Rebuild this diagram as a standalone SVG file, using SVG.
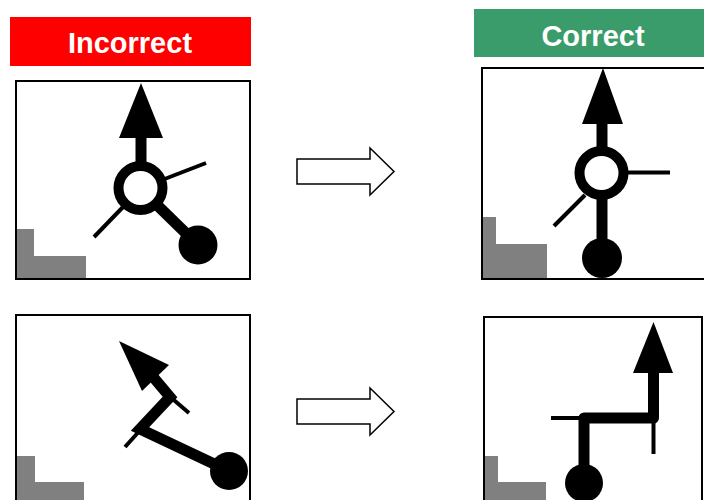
<svg xmlns="http://www.w3.org/2000/svg" width="704" height="500" viewBox="0 0 704 500">
<style>
.banner-text{font-family:"Liberation Sans",Arial,sans-serif;font-weight:bold;font-size:29px;fill:#fff;text-anchor:middle}
.frame{fill:#fff;stroke:#000;stroke-width:2}
.floor{fill:#808080}
.thick{fill:none;stroke:#000;stroke-width:11}
.thin{fill:none;stroke:#000;stroke-width:4}
.ring{fill:#fff;stroke:#000;stroke-width:10}
.dot{fill:#000}
.head{fill:#000}
.big-arrow{fill:#fff;stroke:#000;stroke-width:1.5}
</style>
<rect width="704" height="500" fill="#fff"/>

<g id="label-incorrect">
<rect x="10" y="17" width="241" height="49" fill="#ff0000"/>
<text class="banner-text" x="130" y="53">Incorrect</text>
</g>
<g id="label-correct">
<rect x="474" y="9" width="232" height="48" fill="#3a9c6a"/>
<text class="banner-text" x="593" y="46">Correct</text>
</g>

<g id="panel-incorrect-1">
<rect class="frame" x="16" y="81" width="234" height="198"/>
<path class="floor" d="M17,229 H34 V256 H86 V278 H17 Z"/>
<line class="thick" x1="141" y1="136" x2="141" y2="170"/>
<line class="thick" x1="156" y1="204" x2="198" y2="245"/>
<line class="thin" x1="162" y1="180" x2="206" y2="163"/>
<line class="thin" x1="124" y1="206" x2="94" y2="237"/>
<circle class="ring" cx="140.5" cy="188" r="22"/>
<circle class="dot" cx="198" cy="245" r="19.5"/>
<polygon class="head" points="141,83 163,138 119,138"/>
</g>

<g id="panel-correct-1">
<rect class="frame" x="482" y="68" width="240" height="211"/>
<path class="floor" d="M483,217 H496 V244 H547 V278 H483 Z"/>
<line class="thick" x1="602" y1="122" x2="602" y2="155"/>
<line class="thick" x1="602" y1="192" x2="602" y2="258"/>
<line class="thin" x1="622" y1="172.5" x2="670" y2="172.5"/>
<line class="thin" x1="585" y1="195" x2="554" y2="226"/>
<circle class="ring" cx="601.5" cy="173" r="22"/>
<circle class="dot" cx="602" cy="258" r="20"/>
<polygon class="head" points="603,68 623,124 582,124"/>
</g>

<g id="panel-incorrect-2">
<rect class="frame" x="16" y="315" width="234" height="200"/>
<path class="floor" d="M17,456 H35 V482 H84 V501 H17 Z"/>
<line class="thin" x1="168" y1="395" x2="189" y2="413"/>
<line class="thin" x1="143" y1="427" x2="125" y2="447"/>
<polyline class="thick" points="229,471 140,429 170,397 154,378" stroke-linejoin="miter"/>
<circle class="dot" cx="229" cy="471" r="19"/>
<polygon class="head" points="119,341 169,365 142,391"/>
</g>

<g id="panel-correct-2">
<rect class="frame" x="484" y="317" width="218" height="200"/>
<path class="floor" d="M485,456 H498 V482 H546 V501 H485 Z"/>
<line class="thin" x1="551" y1="418" x2="584" y2="418"/>
<line class="thin" x1="653.5" y1="418" x2="653.5" y2="454"/>
<polyline class="thick" points="584,483 584,418 653.5,418 653.5,371" stroke-linejoin="round"/>
<circle class="dot" cx="584" cy="483" r="19"/>
<polygon class="head" points="653.5,322 673,373 633,373"/>
</g>

<g id="connectors">
<polygon class="big-arrow" points="297,159 370,159 370,148 394,171.5 370,195 370,184 297,184"/>
<polygon class="big-arrow" points="297,399 370,399 370,388 394,411.5 370,435 370,424 297,424"/>
</g>
</svg>
